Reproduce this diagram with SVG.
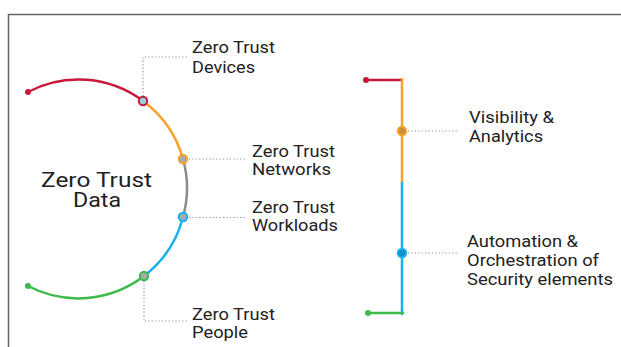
<svg xmlns="http://www.w3.org/2000/svg" width="621" height="347" viewBox="0 0 621 347">
<style>
text{font-family:Roboto,"Liberation Sans",sans-serif;fill:#222;font-size:16.5px}
.big{font-size:21px}
.arc{fill:none;stroke-width:2.5;stroke-linecap:round}
.dot{fill:none;stroke:#8a90a8;stroke-width:1.2;stroke-dasharray:1.2 2.2}
.frame{stroke:#666;stroke-width:1.5;fill:none}
</style>
<rect width="621" height="347" fill="#fff"/>
<path class="frame" d="M8.5,347 V14.5 H621"/>
<g id="connectors">
<path class="arc" stroke="#c8193a" d="M28,92 A108,108 0 0 1 143,101"/>
<path class="arc" stroke="#f5a12e" d="M143,101 A108,108 0 0 1 183,159"/>
<path class="arc" stroke="#8c8c8c" d="M183,159 A108,108 0 0 1 183,217"/>
<path class="arc" stroke="#17aff0" d="M183,217 A108,108 0 0 1 144,276"/>
<path class="arc" stroke="#3cba4a" d="M144,276 A108,108 0 0 1 28,286"/>
<circle cx="28" cy="92" r="3" fill="#c8193a"/>
<circle cx="28" cy="286" r="3" fill="#3cba4a"/>
<path class="dot" d="M143,96 V57 H187"/>
<path class="dot" d="M189,159 H247"/>
<path class="dot" d="M189,217.5 H247"/>
<path class="dot" d="M144,281 V321 H188"/>
<path class="arc" stroke="#c8193a" d="M366,80 H402" stroke-linecap="butt"/>
<path class="arc" stroke="#f5a12e" d="M402,79 V183" stroke-linecap="butt"/>
<path class="arc" stroke="#17aff0" d="M402,183 V314" stroke-linecap="butt"/>
<path class="arc" stroke="#3cba4a" d="M368,313 H403" stroke-linecap="butt"/>
<circle cx="366" cy="80" r="3" fill="#c8193a"/>
<circle cx="368" cy="313" r="3" fill="#3cba4a"/>
<path class="dot" d="M408,131 H458"/>
<path class="dot" d="M408,253 H459"/>
</g>
<g id="data"><text class="big" x="41" y="187" textLength="111" lengthAdjust="spacingAndGlyphs">Zero Trust</text><text class="big" x="73" y="207" textLength="48" lengthAdjust="spacingAndGlyphs">Data</text></g>
<g id="devices"><circle cx="143" cy="101" r="4.2" fill="#96cde0" stroke="#c8193a" stroke-width="2"/><text x="192" y="53" textLength="83" lengthAdjust="spacingAndGlyphs">Zero Trust</text><text x="192" y="73" textLength="63" lengthAdjust="spacingAndGlyphs">Devices</text></g>
<g id="networks"><circle cx="183" cy="159" r="4.2" fill="#aaa" stroke="#f5a12e" stroke-width="2"/><text x="252" y="156.5" textLength="83" lengthAdjust="spacingAndGlyphs">Zero Trust</text><text x="252" y="175" textLength="79" lengthAdjust="spacingAndGlyphs">Networks</text></g>
<g id="workloads"><circle cx="183" cy="217" r="4.2" fill="#aaa" stroke="#17aff0" stroke-width="2"/><text x="252" y="213" textLength="83" lengthAdjust="spacingAndGlyphs">Zero Trust</text><text x="252" y="231" textLength="86" lengthAdjust="spacingAndGlyphs">Workloads</text></g>
<g id="people"><circle cx="144" cy="276" r="4.2" fill="#aaa" stroke="#3cba4a" stroke-width="2"/><text x="192" y="320" textLength="83" lengthAdjust="spacingAndGlyphs">Zero Trust</text><text x="192" y="338" textLength="56" lengthAdjust="spacingAndGlyphs">People</text></g>
<g id="visibility"><circle cx="402" cy="131" r="4.2" fill="#c98f3e" stroke="#f5a12e" stroke-width="2"/><text x="469" y="123" textLength="85" lengthAdjust="spacingAndGlyphs">Visibility &amp;</text><text x="469" y="142" textLength="74" lengthAdjust="spacingAndGlyphs">Analytics</text></g>
<g id="automation"><circle cx="402" cy="253" r="4.2" fill="#168fd0" stroke="#17aff0" stroke-width="2"/><text x="467" y="247" textLength="111" lengthAdjust="spacingAndGlyphs">Automation &amp;</text><text x="467" y="266" textLength="132" lengthAdjust="spacingAndGlyphs">Orchestration of</text><text x="467" y="285" textLength="146" lengthAdjust="spacingAndGlyphs">Security elements</text></g>
</svg>
